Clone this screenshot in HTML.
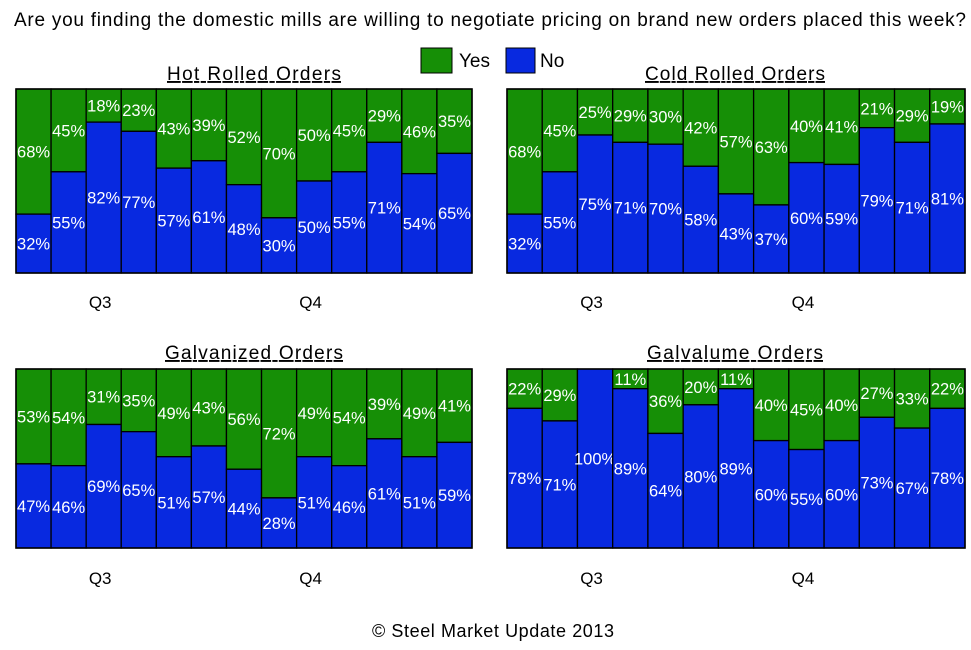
<!DOCTYPE html>
<html><head><meta charset="utf-8"><style>
body{margin:0;width:971px;height:645px;background:#fff;font-family:"Liberation Sans",sans-serif;overflow:hidden}
svg text{font-family:"Liberation Sans",sans-serif}
</style></head><body>
<svg id="c" width="971" height="645">
<text x="490" y="26" text-anchor="middle" font-size="19" textLength="952" lengthAdjust="spacing">Are you finding the domestic mills are willing to negotiate pricing on brand new orders placed this week?</text>
<rect x="421" y="48" width="31" height="25" fill="#168f06" stroke="#000"/>
<text x="459" y="67" font-size="19">Yes</text>
<rect x="506" y="48" width="29" height="25" fill="#0829e0" stroke="#000"/>
<text x="540" y="67" font-size="19">No</text>
<text x="493" y="637" text-anchor="middle" font-size="18" textLength="242" lengthAdjust="spacing">© Steel Market Update 2013</text>
</svg>
<script>
const titles=["Hot Rolled Orders","Cold Rolled Orders","Galvanized Orders","Galvalume Orders"];
const hotNo=[32,55,82,77,57,61,48,30,50,55,71,54,65];
const coldNo=[32,55,75,71,70,58,43,37,60,59,79,71,81];
const galvNo=[47,46,69,65,51,57,44,28,51,46,61,51,59];
const galvalumeNo=[78,71,100,89,64,80,89,60,55,60,73,67,78];
const hotYes=[68,45,18,23,43,39,52,70,50,45,29,46,35];
const coldYes=[68,45,25,29,30,42,57,63,40,41,21,29,19];
const galvYes=[53,54,31,35,49,43,56,72,49,54,39,49,41];
const galvalumeYes=[22,29,0,11,36,20,11,40,45,40,27,33,22];
const quarterLabels=["Q3","Q4"];
const quarterIdx=[2.4,8.4];
const panels=[
 {x:16,y:89,w:456,h:184,ty:80,qy:308,no:hotNo,yes:hotYes,tw:174},
 {x:507,y:89,w:458,h:184,ty:80,qy:308,no:coldNo,yes:coldYes,tw:180},
 {x:16,y:369,w:456,h:179,ty:359,qy:584,no:galvNo,yes:galvYes,tw:178},
 {x:507,y:369,w:458,h:179,ty:359,qy:584,no:galvalumeNo,yes:galvalumeYes,tw:176}];
const svg=document.getElementById('c');const NS="http://www.w3.org/2000/svg";
function mk(t,a,p){const e=document.createElementNS(NS,t);for(const k in a)e.setAttribute(k,a[k]);(p||svg).appendChild(e);return e;}
panels.forEach((p,pi)=>{
 const g=mk('g',{});
 
 
 const n=p.no.length,bw=p.w/n;
 const xs=i=>p.x+i*bw;
 const ys=v=>p.y+p.h-v/100*p.h;
 const t=mk('text',{x:p.x+p.w/2+(pi%2?-1:10),y:p.ty,'text-anchor':'middle','font-size':19,'text-decoration':'underline',textLength:p.tw,lengthAdjust:'spacing'},g);
 t.textContent=titles[pi];
 
 
 for(let i=0;i<n;i++){
  const nv=p.no[i],yv=p.yes[i],x=xs(i);
  const gr=mk('rect',{x:x,y:p.y,width:bw,height:ys(nv)-p.y,fill:'#168f06',stroke:'#000','stroke-width':1.3},g);
  
  
  const bl=mk('rect',{x:x,y:ys(nv),width:bw,height:p.y+p.h-ys(nv),fill:'#0829e0',stroke:'#000','stroke-width':1.3},g);
  
  
  if(yv>0){
   const ty=mk('text',{x:x+bw/2,y:(p.y+ys(nv))/2+6,'text-anchor':'middle','font-size':16.5,fill:'#fff'},g);
   ty.textContent=yv+'%';
   
   
  }
  const tn=mk('text',{x:x+bw/2,y:(ys(nv)+p.y+p.h)/2+6,'text-anchor':'middle','font-size':16.5,fill:'#fff'},g);
  tn.textContent=nv+'%';
  
  
 }
 mk('rect',{x:p.x,y:p.y,width:p.w,height:p.h,fill:'none',stroke:'#000','stroke-width':1.5},g);
 quarterLabels.forEach((q,qi)=>{
  const qt=mk('text',{x:xs(quarterIdx[qi]),y:p.qy,'text-anchor':'middle','font-size':17},g);
  qt.textContent=q;
  
  
 });
});
</script>
</body></html>
